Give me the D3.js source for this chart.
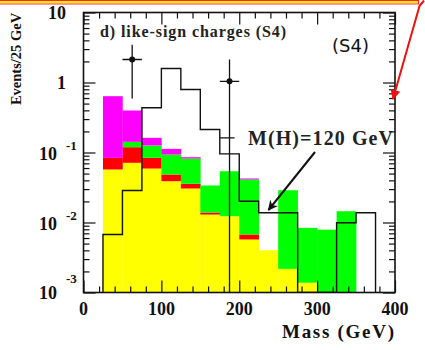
<!DOCTYPE html>
<html><head><meta charset="utf-8">
<script src="https://cdn.jsdelivr.net/npm/d3@7"></script>
<style>html,body{margin:0;padding:0;background:#fff;}svg{display:block;}</style>
</head><body>
<svg id="c" width="425" height="350"></svg>
<script>
// ---------- data ----------
const binLow = [25,50,75,100,125,150,175,200,225,250,275,300,325,350];
const binWidth = 25;
const yellowBkg  = [0.0572,0.0713,0.059,0.0389,0.0306,0.0130,0.0123,0.00572,0.00402,0.00218,0.00138,0,0,0];
const redBkg     = [0.0267,0.0477,0.0249,0.0096,0.0051,0.0009,0,0.00102,0,0,0,0,0,0];
const greenBkg   = [0,0.023,0.0421,0.0451,0.0463,0.0199,0.0417,0.0344,0,0.0267,0.0070,0.0079,0.0145,0];
const magentaBkg = [0.553,0.256,0.036,0.019,0.0037,0,0,0.0014,0,0,0,0,0,0];
const signalH120 = [0.00674,0.0286,0.435,1.585,0.794,0.213,0.0957,0.0201,0.0138,0.0138,0,0,0.0099,0.0138];
const dataX    = [62.5,187.5];
const dataY    = [2.13,1.04];
const dataYHi  = [3.45,2.13];
const dataYLo  = [0.59,0];
const dataXErr = [12.5,12.5];
const extraMark = [{x0:175, x1:194, v:0.162}];
const xTickLabels = ["0","100","200","300","400"];
const xTickValues = [0,100,200,300,400];
const yDecades = [10,1,0.1,0.01,0.001];
const yDecadeLabels = [{m:"10",e:""},{m:"1",e:""},{m:"10",e:"-1"},{m:"10",e:"-2"},{m:"10",e:"-3"}];

// ---------- scales ----------
const x = d3.scaleLinear().domain([0,400]).range([83.5,395]);
const y = d3.scaleLog().domain([1e-3,10]).range([292.5,12.5]).clamp(true);

const svg = d3.select("#c");
const serif = "'Liberation Serif','Times New Roman',serif";

// decoration band at top
svg.append("rect").attr("x",0).attr("y",1).attr("width",418).attr("height",2.5).attr("fill","#ffee00");
svg.append("line").attr("x1",0).attr("x2",418).attr("y1",0.5).attr("y2",0.5).attr("stroke","#ff2020").attr("stroke-width",1);
svg.append("line").attr("x1",0).attr("x2",418).attr("y1",4).attr("y2",4).attr("stroke","#ff3060").attr("stroke-width",1);
svg.append("line").attr("x1",418.5).attr("x2",418.5).attr("y1",0).attr("y2",4.5).attr("stroke","#ff2020").attr("stroke-width",1);

const defs = svg.append("defs");
defs.append("marker").attr("id","ahRed").attr("viewBox","0 0 10 10").attr("refX",9).attr("refY",5)
  .attr("markerWidth",5).attr("markerHeight",5).attr("markerUnits","strokeWidth").attr("orient","auto")
  .append("path").attr("d","M0,0L10,5L0,10z").attr("fill","#f01010");
defs.append("marker").attr("id","ahBlack").attr("viewBox","0 0 10 10").attr("refX",9).attr("refY",5)
  .attr("markerWidth",6).attr("markerHeight",5).attr("markerUnits","strokeWidth").attr("orient","auto")
  .append("path").attr("d","M0,0L10,5L0,10L3,5z").attr("fill","#111");
defs.append("clipPath").attr("id","plotClip").append("rect")
  .attr("x",x(0)).attr("y",y(10)).attr("width",x(400)-x(0)).attr("height",y(1e-3)-y(10));

// ---------- stacked backgrounds ----------
const rows = binLow.map((b,i)=>({b, yellow:yellowBkg[i], red:redBkg[i], green:greenBkg[i], magenta:magentaBkg[i]}));
const keys = ["yellow","red","green","magenta"];
const colors = {yellow:"#ffff00", red:"#ff0000", green:"#00ff00", magenta:"#ff00ff"};
const stack = d3.stack().keys(keys)(rows);
const plot = svg.append("g").attr("clip-path","url(#plotClip)");
stack.forEach(layer=>{
  plot.append("g").attr("fill",colors[layer.key]).selectAll("rect").data(layer).join("rect")
    .attr("x",d=>x(d.data.b)).attr("width",d=>x(d.data.b+binWidth)-x(d.data.b)+0.3)
    .attr("y",d=>y(d[1])).attr("height",d=>(d[1]-d[0])>0 ? Math.max(0,y(d[0])-y(d[1])) : 0);
});

// ---------- signal outline ----------
const pts = [[binLow[0],1e-3]].concat(binLow.map((b,i)=>[b,signalH120[i]]))
  .concat([[binLow[binLow.length-1]+binWidth, signalH120[signalH120.length-1]],[binLow[binLow.length-1]+binWidth,1e-3]]);
const line = d3.line().x(d=>x(d[0])).y(d=>y(d[1])).curve(d3.curveStepAfter);
plot.append("path").attr("d",line(pts)).attr("fill","none").attr("stroke","#111").attr("stroke-width",1.4);

// ---------- data points ----------
const dp = plot.append("g").attr("stroke","#111").attr("stroke-width",1.3);
dataX.forEach((dx,i)=>{
  dp.append("line").attr("x1",x(dx)).attr("x2",x(dx)).attr("y1",y(dataYHi[i])).attr("y2",y(dataYLo[i]));
  dp.append("line").attr("x1",x(dx-dataXErr[i])).attr("x2",x(dx+dataXErr[i])).attr("y1",y(dataY[i])).attr("y2",y(dataY[i]));
  dp.append("circle").attr("cx",x(dx)).attr("cy",y(dataY[i])).attr("r",3).attr("fill","#111").attr("stroke","none");
});
extraMark.forEach(m=>{
  dp.append("line").attr("x1",x(m.x0)).attr("x2",x(m.x1)).attr("y1",y(m.v)).attr("y2",y(m.v));
});

// ---------- axes (inward ticks) ----------
const xMinor = d3.range(0,401,20).filter(v=>v%100!==0);
const yMinor = [];
[0.001,0.01,0.1,1].forEach(d=>{for(let k=2;k<=9;k++) yMinor.push(d*k);});
function styleAxis(g){ g.select(".domain").remove(); g.selectAll("line").attr("stroke","#111").attr("stroke-width",1.2); g.selectAll("text").remove(); }
svg.append("g").attr("transform",`translate(0,${y(1e-3)})`).call(d3.axisBottom(x).tickValues(xTickValues).tickSize(-12)).call(styleAxis);
svg.append("g").attr("transform",`translate(0,${y(1e-3)})`).call(d3.axisBottom(x).tickValues(xMinor).tickSize(-6)).call(styleAxis);
svg.append("g").attr("transform",`translate(0,${y(10)})`).call(d3.axisTop(x).tickValues(xTickValues).tickSize(-12)).call(styleAxis);
svg.append("g").attr("transform",`translate(0,${y(10)})`).call(d3.axisTop(x).tickValues(xMinor).tickSize(-6)).call(styleAxis);
svg.append("g").attr("transform",`translate(${x(0)},0)`).call(d3.axisLeft(y).tickValues(yDecades).tickSize(-12)).call(styleAxis);
svg.append("g").attr("transform",`translate(${x(0)},0)`).call(d3.axisLeft(y).tickValues(yMinor).tickSize(-6)).call(styleAxis);
svg.append("g").attr("transform",`translate(${x(400)},0)`).call(d3.axisRight(y).tickValues(yDecades).tickSize(-12)).call(styleAxis);
svg.append("g").attr("transform",`translate(${x(400)},0)`).call(d3.axisRight(y).tickValues(yMinor).tickSize(-6)).call(styleAxis);

// frame
svg.append("rect").attr("x",x(0)).attr("y",y(10)).attr("width",x(400)-x(0)).attr("height",y(1e-3)-y(10))
  .attr("fill","none").attr("stroke","#111").attr("stroke-width",1.6);

// ---------- tick labels ----------
svg.append("g").selectAll("text").data(xTickValues).join("text")
  .attr("x",d=>x(d)).attr("y",315).attr("text-anchor","middle")
  .attr("font-family",serif).attr("font-weight","bold").attr("font-size",18).attr("fill","#111")
  .text((d,i)=>xTickLabels[i]);
yDecades.forEach((d,i)=>{
  const lab = yDecadeLabels[i];
  const ty = y(d);
  if(lab.e===""){
    svg.append("text").attr("x",66).attr("y",ty+6.5).attr("text-anchor","end")
      .attr("font-family",serif).attr("font-weight","bold").attr("font-size",18).attr("fill","#111").text(lab.m);
  } else {
    svg.append("text").attr("x",57).attr("y",Math.min(ty+7.5,299)).attr("text-anchor","end")
      .attr("font-family",serif).attr("font-weight","bold").attr("font-size",18).attr("fill","#111").text(lab.m);
    svg.append("text").attr("x",66).attr("y",Math.min(ty-3,283)).attr("text-anchor","start")
      .attr("font-family",serif).attr("font-weight","bold").attr("font-size",13).attr("fill","#111").text(lab.e);
  }
});

// axis titles
svg.append("text").attr("transform","translate(21,59) rotate(-90)").attr("text-anchor","middle")
  .attr("font-family",serif).attr("font-weight","bold").attr("font-size",14.5).attr("fill","#111").text("Events/25 GeV");
svg.append("text").attr("x",282).attr("y",338).attr("textLength",112).attr("lengthAdjust","spacing")
  .attr("font-family",serif).attr("font-weight","bold").attr("font-size",19).attr("fill","#111").text("Mass (GeV)");

// annotations
svg.append("text").attr("x",100).attr("y",37).attr("textLength",186).attr("lengthAdjust","spacing")
  .attr("font-family",serif).attr("font-weight","bold").attr("font-size",16).attr("fill","#222").text("d) like-sign charges (S4)");
svg.append("text").attr("x",332).attr("y",52).attr("font-family","'DejaVu Sans',sans-serif").attr("font-size",18).attr("fill","#111").text("(S4)");
svg.append("text").attr("x",248).attr("y",145).attr("textLength",145).attr("lengthAdjust","spacing")
  .attr("font-family",serif).attr("font-weight","bold").attr("font-size",20).attr("fill","#222").text("M(H)=120 GeV");
svg.append("line").attr("x1",315).attr("y1",152).attr("x2",268.5).attr("y2",210)
  .attr("stroke","#111").attr("stroke-width",2).attr("marker-end","url(#ahBlack)");

// red arrow
svg.append("path").attr("d","M424,0.5L419.5,6L393,99").attr("fill","none").attr("stroke","#f01010").attr("stroke-width",2)
  .attr("marker-end","url(#ahRed)");
</script>
</body></html>
